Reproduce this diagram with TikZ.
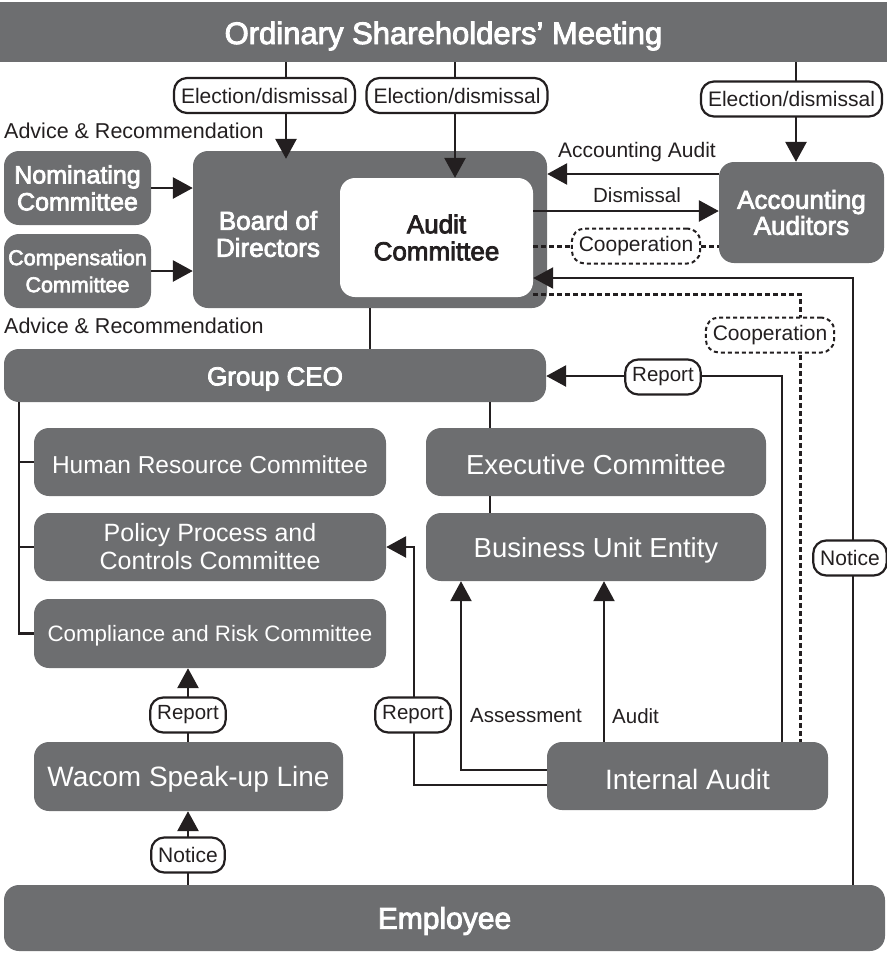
\documentclass[tikz,border=0pt]{standalone}
\usepackage{fontspec}
\setmainfont{Liberation Sans}
\newfontfamily\medf[FakeBold=3]{Liberation Sans}
\usetikzlibrary{arrows.meta}
\definecolor{gry}{RGB}{109,110,112}
\definecolor{ink}{RGB}{35,31,32}
\newcommand{\fs}[2]{\fontsize{#1}{#2}\selectfont}
\newcommand{\dn}[2][3pt]{\raisebox{-#1}[\height][\depth]{#2}}
\begin{document}
\begin{tikzpicture}[x=1pt,y=-1pt,
  box/.style={fill=gry,rounded corners=15pt,text=white,align=center,inner sep=0pt},
  ln/.style={draw=ink,line width=2.8pt},
  arr/.style={draw=ink,line width=2.8pt,-{Triangle[length=20pt 0 0,width=21pt 0 0]}},
  tarr/.style={draw=ink,line width=2.3pt,-{Triangle[length=20pt 0 0,width=21pt 0 0]}},
  dln/.style={draw=ink,line width=3pt,dash pattern=on 5pt off 3pt},
  lbl/.style={draw=ink,line width=2.2pt,fill=white,rounded corners=13pt,inner xsep=7pt,inner ysep=0pt,minimum height=35pt,text=ink,font=\fs{20.5}{24}},
  dlbl/.style={lbl,dash pattern=on 4pt off 3pt,line width=2pt},
  plain/.style={inner sep=0pt,text=ink,font=\fs{21}{25}}
]
\useasboundingbox (0,0) rectangle (887,954);

% boxes
\node[box,rounded corners=0pt,minimum width=887pt,minimum height=60pt,font=\medf\fs{31}{36}] (osm) at (443.5,32) {\dn[4pt]{Ordinary Shareholders’ Meeting}};
\node[box,minimum width=147pt,minimum height=74pt,font=\medf\fs{25}{27}] (nom) at (77.5,188) {Nominating\\Committee};
\node[box,minimum width=147pt,minimum height=74pt,font=\medf\fs{21.5}{27}] (comp) at (77.5,271) {Compensation\\Committee};
\node[box,minimum width=354pt,minimum height=157pt] (bod) at (370,229.5) {};
\node[inner sep=0pt,text=white,align=center,font=\medf\fs{26}{27}] (bodt) at (268,234) {Board of\\Directors};
\node[box,fill=white,text=ink,minimum width=193pt,minimum height=119pt,font=\medf\fs{26}{27}] (ac) at (436.5,237.5) {Audit\\Committee};
\node[box,minimum width=165pt,minimum height=101pt,font=\medf\fs{26}{26}] (acc) at (801.5,212.5) {Accounting\\Auditors};
\node[box,minimum width=542pt,minimum height=53pt,font=\medf\fs{26}{30}] (ceo) at (275,375.5) {\dn[3.5pt]{Group CEO}};
\node[box,minimum width=352pt,minimum height=68pt,font=\fs{24.5}{28}] (hr) at (210,462) {\dn[2.5pt]{Human Resource Committee}};
\node[box,minimum width=352pt,minimum height=68pt,font=\fs{25}{28}] (ppc) at (210,547) {Policy Process and\\Controls Committee};
\node[box,minimum width=352pt,minimum height=69pt,font=\fs{22.3}{26}] (crc) at (210,633.5) {\dn[2.5pt]{Compliance and Risk Committee}};
\node[box,minimum width=340pt,minimum height=68pt,font=\fs{27.5}{30}] (ec) at (596,462) {\dn{Executive Committee}};
\node[box,minimum width=340pt,minimum height=68pt,font=\fs{27.5}{30}] (bu) at (596,547) {\dn{Business Unit Entity}};
\node[box,minimum width=281pt,minimum height=68pt,font=\fs{28}{30}] (ia) at (687.5,776) {\dn{Internal Audit}};
\node[box,minimum width=309pt,minimum height=69pt,font=\fs{28}{30}] (ws) at (188.5,776.5) {\dn{Wacom Speak-up Line}};
\node[box,minimum width=881pt,minimum height=66pt,font=\medf\fs{30}{34}] (emp) at (444.5,918) {\dn{Employee}};

% connectors
\draw[arr,shorten >=-8pt] (286,0 |- osm.south) -- (286,0 |- bod.north);
\draw[arr] (455,0 |- osm.south) -- (455,0 |- ac.north);
\draw[arr] (796,0 |- osm.south) -- (796,0 |- acc.north);
\draw[arr] (nom) -- (bod.west |- nom);
\draw[arr] (comp) -- (bod.west |- comp);
\draw[arr] (acc.west |- 0,174) -- (bod.east |- 0,174);
\draw[arr] (ac.east |- 0,211) -- (acc.west |- 0,211);
\draw[dln] (ac.east |- 0,246) -- (acc.west |- 0,246);
\coordinate (ntc) at (853,278);
\draw[tarr] (853,0 |- emp.north) -- (ntc) -- (ac.east |- ntc);
\coordinate (dc) at (800,294);
\draw[dln] (ac.east |- dc) -- (dc) -- (800,0 |- ia.north);
\draw[ln] (370,0 |- bod.south) -- (370,0 |- ceo.north);
\coordinate (rc) at (782,376);
\draw[arr] (782,0 |- ia.north) -- (rc) -- (ceo.east |- rc);
\coordinate (lv) at (19,633.5);
\draw[ln] (19,0 |- ceo.south) -- (lv) -- (crc.west);
\draw[ln] (19,0 |- hr) -- (hr.west);
\draw[ln] (19,0 |- ppc) -- (ppc.west);
\draw[ln] (490,0 |- ceo.south) -- (490,0 |- ec.north);
\draw[ln] (490,0 |- ec.south) -- (490,0 |- bu.north);
\coordinate (rp) at (414,785);
\draw[arr] (ia.west |- rp) -- (rp) -- (414,0 |- ppc) -- (ppc.east);
\coordinate (as) at (461,770);
\draw[tarr] (ia.west |- as) -- (as) -- (461,0 |- bu.south);
\draw[tarr] (604,0 |- ia.north) -- (604,0 |- bu.south);
\draw[arr] (188,0 |- ws.north) -- (188,0 |- crc.south);
\draw[arr] (188,0 |- emp.north) -- (188,0 |- ws.south);

% labels
\node[lbl,font=\fs{21}{24}] (e1) at (264.5,95.5) {Election/dismissal};
\node[lbl,font=\fs{21}{24}] (e2) at (457,95.5) {Election/dismissal};
\node[lbl,font=\fs{21}{24}] (e3) at (791.5,99) {Election/dismissal};
\node[plain,anchor=west,font=\fs{21.5}{25}] (adv1) at (4,131) {Advice \& Recommendation};
\node[plain,anchor=west,font=\fs{21.5}{25}] (adv2) at (4,326) {Advice \& Recommendation};
\node[plain] (aat) at (637,152) {Accounting Audit};
\node[plain,font=\fs{20.5}{24}] (dis) at (637,195) {Dismissal};
\node[dlbl,font=\fs{21}{24}] (co1) at (636,246) {Cooperation};
\node[dlbl,font=\fs{21}{24}] (co2) at (770,335) {Cooperation};
\node[lbl,font=\fs{21}{24}] (nt1) at (850,558) {Notice};
\node[lbl] (rp1) at (663,377) {Report};
\node[lbl] (rp2) at (413,715) {Report};
\node[lbl] (rp3) at (188,715) {Report};
\node[lbl,font=\fs{21}{24}] (nt2) at (188,855) {Notice};
\node[plain,anchor=west,font=\fs{20.5}{24}] (asl) at (470,716) {Assessment};
\node[plain,anchor=west,font=\fs{20.5}{24}] (aul) at (612,716) {Audit};
\end{tikzpicture}
\end{document}
